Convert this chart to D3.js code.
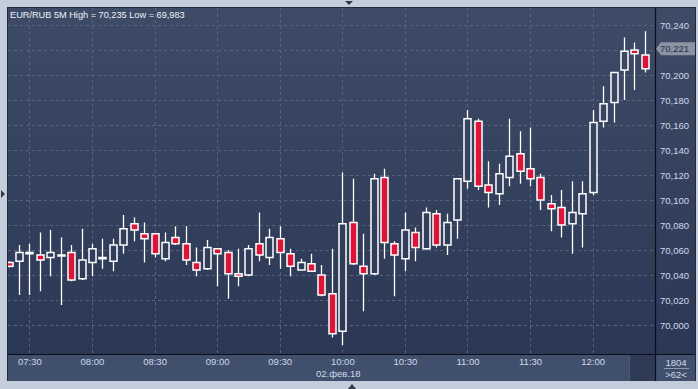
<!DOCTYPE html>
<html>
<head>
<meta charset="utf-8">
<script src="https://cdn.jsdelivr.net/npm/d3@7"></script>
<style>
  body { margin: 0; background: #c3cddb; }
  svg { display: block; font-family: "Liberation Sans", Arial, sans-serif; }
</style>
</head>
<body>
<svg id="chart" width="698" height="389"></svg>
<script>
// 5-minute candles, 07:20 .. 12:25 (62 bars)
var startTime = "07:20";
var opens  = [70.050,70.051,70.057,70.056,70.054,70.056,70.058,70.037,70.050,70.053,70.051,70.064,70.081,70.073,70.073,70.053,70.070,
              70.065,70.050,70.045,70.061,70.058,70.041,70.040,70.065,70.054,70.069,70.057,70.044,70.049,70.040,
              70.025,69.995,70.082,70.047,70.041,70.118,70.065,70.053,70.074,70.061,70.089,70.064,70.084,
              70.115,70.163,70.112,70.105,70.118,70.137,70.125,70.118,70.097,70.094,70.081,70.089,70.106,70.163,70.178,70.204,70.220,70.216];
var highs  = [70.051,70.064,70.065,70.074,70.076,70.070,70.064,70.077,70.065,70.069,70.069,70.088,70.086,70.082,70.073,70.074,70.079,
              70.079,70.062,70.068,70.061,70.060,70.061,70.064,70.090,70.077,70.079,70.061,70.053,70.057,70.048,
              70.061,70.122,70.117,70.073,70.121,70.125,70.067,70.090,70.078,70.094,70.092,70.089,70.117,
              70.172,70.165,70.131,70.129,70.165,70.155,70.158,70.121,70.104,70.108,70.115,70.115,70.172,70.191,70.202,70.230,70.226,70.235];
var lows   = [70.046,70.024,70.024,70.027,70.039,70.016,70.035,70.036,70.039,70.045,70.043,70.057,70.067,70.050,70.054,70.051,70.064,
              70.048,70.039,70.044,70.031,70.021,70.031,70.039,70.051,70.048,70.045,70.039,70.044,70.043,70.023,
              69.990,69.984,70.048,70.011,70.040,70.053,70.023,70.043,70.051,70.060,70.062,70.056,70.069,
              70.109,70.108,70.094,70.096,70.111,70.113,70.111,70.092,70.075,70.070,70.057,70.062,70.104,70.158,70.162,70.180,70.188,70.202];
var closes = [70.047,70.058,70.058,70.052,70.058,70.056,70.036,70.052,70.061,70.054,70.064,70.077,70.076,70.069,70.057,70.066,70.065,
              70.052,70.044,70.062,70.057,70.041,70.039,70.061,70.056,70.070,70.058,70.047,70.050,70.043,70.024,
              69.993,70.081,70.049,70.041,70.117,70.066,70.056,70.076,70.062,70.090,70.064,70.082,70.117,
              70.165,70.111,70.106,70.121,70.135,70.123,70.117,70.100,70.093,70.080,70.090,70.105,70.162,70.177,70.202,70.219,70.217,70.205];

var priceTicks = [70.000,70.020,70.040,70.060,70.080,70.100,70.120,70.140,70.160,70.180,70.200,70.220,70.240];
var timeTicks = ["07:30","08:00","08:30","09:00","09:30","10:00","10:30","11:00","11:30","12:00"];
var titleText = "EUR/RUB 5M High = 70,235 Low = 69,983";
var dateLabel = "02.фев.18";
var lastPrice = 70.221;
var barCount = "1804";
var visibleCount = ">62<";

var parseTime = d3.timeParse("%H:%M");
var t0 = parseTime(startTime);
var candles = opens.map(function(o, i) {
  return {time: d3.timeMinute.offset(t0, 5 * i), open: o, high: highs[i], low: lows[i], close: closes[i]};
});

var svg = d3.select("#chart");
var fmt = function(v) { return d3.format(".3f")(v).replace(".", ","); };

var plot = {left: 8, top: 8, right: 655, bottom: 354};

var x = d3.scaleTime()
    .domain([t0, candles[candles.length - 1].time])
    .range([8.5, 644.8]);
var y = d3.scaleLinear().domain([70.000, 70.240]).range([325, 25]);

var defs = svg.append("defs");
var grad = defs.append("linearGradient").attr("id", "bg").attr("gradientUnits", "userSpaceOnUse")
    .attr("x1", 0).attr("y1", plot.top).attr("x2", 0).attr("y2", plot.bottom);
grad.append("stop").attr("offset", "0%").attr("stop-color", "#3e4b67");
grad.append("stop").attr("offset", "100%").attr("stop-color", "#2b3855");
defs.append("clipPath").attr("id", "clip").append("rect")
    .attr("x", plot.left).attr("y", plot.top)
    .attr("width", plot.right - plot.left).attr("height", plot.bottom - plot.top);

// outer frame
svg.append("rect").attr("x", 7).attr("y", 7).attr("width", 689).attr("height", 374)
    .attr("fill", "#1f2a3f");
svg.append("rect").attr("x", plot.left).attr("y", plot.top)
    .attr("width", 695 - plot.left).attr("height", plot.bottom - plot.top)
    .attr("fill", "url(#bg)");
// bottom axis area
svg.append("rect").attr("x", plot.left).attr("y", plot.bottom)
    .attr("width", 695 - plot.left).attr("height", 381 - plot.bottom)
    .attr("fill", "#3f4f6c");
svg.append("rect").attr("x", 630).attr("y", plot.bottom + 1)
    .attr("width", plot.right - 630).attr("height", 381 - plot.bottom - 1)
    .attr("fill", "#2f3b56");
svg.append("line").attr("x1", 629.5).attr("x2", 629.5).attr("y1", plot.bottom + 1).attr("y2", 381)
    .attr("stroke", "#4c5a76");

// grid
var grid = svg.append("g").attr("clip-path", "url(#clip)");
grid.selectAll(".hg").data(priceTicks).enter().append("line")
    .attr("x1", plot.left).attr("x2", plot.right)
    .attr("y1", function(d) { return Math.round(y(d)) + 0.5; })
    .attr("y2", function(d) { return Math.round(y(d)) + 0.5; })
    .attr("stroke", "#56637e").attr("stroke-dasharray", "3,3");
grid.selectAll(".vg").data(timeTicks).enter().append("line")
    .attr("x1", function(d) { return Math.round(x(parseTime(d))) + 0.5; })
    .attr("x2", function(d) { return Math.round(x(parseTime(d))) + 0.5; })
    .attr("y1", plot.top).attr("y2", plot.bottom)
    .attr("stroke", "#56637e").attr("stroke-dasharray", "3,3");

// candles
var bw = 7;
var c = grid.selectAll(".candle").data(candles).enter().append("g").attr("class", "candle");
c.append("line")
    .attr("x1", function(d) { return Math.round(x(d.time)) + 0.5; })
    .attr("x2", function(d) { return Math.round(x(d.time)) + 0.5; })
    .attr("y1", function(d) { return y(d.high); })
    .attr("y2", function(d) { return y(d.low); })
    .attr("stroke", "#ffffff").attr("stroke-width", 1.3);
c.append("rect")
    .attr("x", function(d) { return Math.round(x(d.time)) + 0.5 - bw / 2; })
    .attr("width", bw)
    .attr("y", function(d) { return y(Math.max(d.open, d.close)); })
    .attr("height", function(d) { return Math.max(1, Math.abs(y(d.open) - y(d.close))); })
    .attr("fill", function(d) { return d.close < d.open ? "#dc1438" : "url(#bg)"; })
    .attr("stroke", "#ffffff").attr("stroke-width", 1.5);

// frame lines
svg.append("line").attr("x1", plot.left).attr("x2", 695).attr("y1", plot.bottom + 0.5).attr("y2", plot.bottom + 0.5)
    .attr("stroke", "#0c0f18").attr("stroke-width", 1.2);
svg.append("line").attr("x1", plot.right + 0.5).attr("x2", plot.right + 0.5).attr("y1", plot.top).attr("y2", 381)
    .attr("stroke", "#0c0f18").attr("stroke-width", 1.2);

// right axis
var yAxis = svg.append("g").attr("transform", "translate(" + (plot.right + 5) + ",0)")
    .call(d3.axisRight(y).tickValues(priceTicks).tickFormat(fmt).tickSize(0).tickPadding(0));
yAxis.select(".domain").remove();
yAxis.selectAll("text").attr("fill", "#cfd9ea").style("font-size", "9.5px")
    .style("font-family", "'Liberation Sans', Arial, sans-serif");

// last price marker
var ly = y(lastPrice);
svg.append("path")
    .attr("d", "M656," + ly + " L661," + (ly - 6.5) + " L695," + (ly - 6.5) + " L695," + (ly + 6.5) + " L661," + (ly + 6.5) + " Z")
    .attr("fill", "#8b94a3");
svg.append("text").attr("x", 660).attr("y", ly).attr("dy", "0.35em")
    .attr("fill", "#243049").style("font-size", "9.5px").text(fmt(lastPrice));

// bottom axis
var xAxis = svg.append("g").attr("transform", "translate(0," + (plot.bottom + 4) + ")")
    .call(d3.axisBottom(x).tickValues(timeTicks.map(parseTime)).tickFormat(d3.timeFormat("%H:%M")).tickSize(0).tickPadding(0));
xAxis.select(".domain").remove();
xAxis.selectAll("text").attr("fill", "#cfd9ea").style("font-size", "9.5px")
    .style("font-family", "'Liberation Sans', Arial, sans-serif");
svg.append("text").attr("x", x(parseTime("10:00")) - 4).attr("y", 377)
    .attr("text-anchor", "middle").attr("fill", "#cfd9ea").style("font-size", "9.5px").text(dateLabel);

// counters box
svg.append("text").attr("x", 676).attr("y", 365.5).attr("text-anchor", "middle")
    .attr("fill", "#cfd9ea").style("font-size", "9.5px").text(barCount);
svg.append("line").attr("x1", 664).attr("x2", 689).attr("y1", 368.5).attr("y2", 368.5)
    .attr("stroke", "#8d9ab0");
svg.append("text").attr("x", 676).attr("y", 378).attr("text-anchor", "middle")
    .attr("fill", "#cfd9ea").style("font-size", "9.5px").text(visibleCount);

// title
svg.append("text").attr("x", 10).attr("y", 18).attr("fill", "#eef2f8")
    .style("font-size", "9.2px").text(titleText);

// window triangles
svg.append("path").attr("d", "M345,1 L353,1 L349,5 Z").attr("fill", "#333a45");
svg.append("path").attr("d", "M1,190 L1,198 L5,194 Z").attr("fill", "#333a45");
svg.append("path").attr("d", "M348,389 L356,389 L352,384 Z").attr("fill", "#333a45");
</script>
</body>
</html>
